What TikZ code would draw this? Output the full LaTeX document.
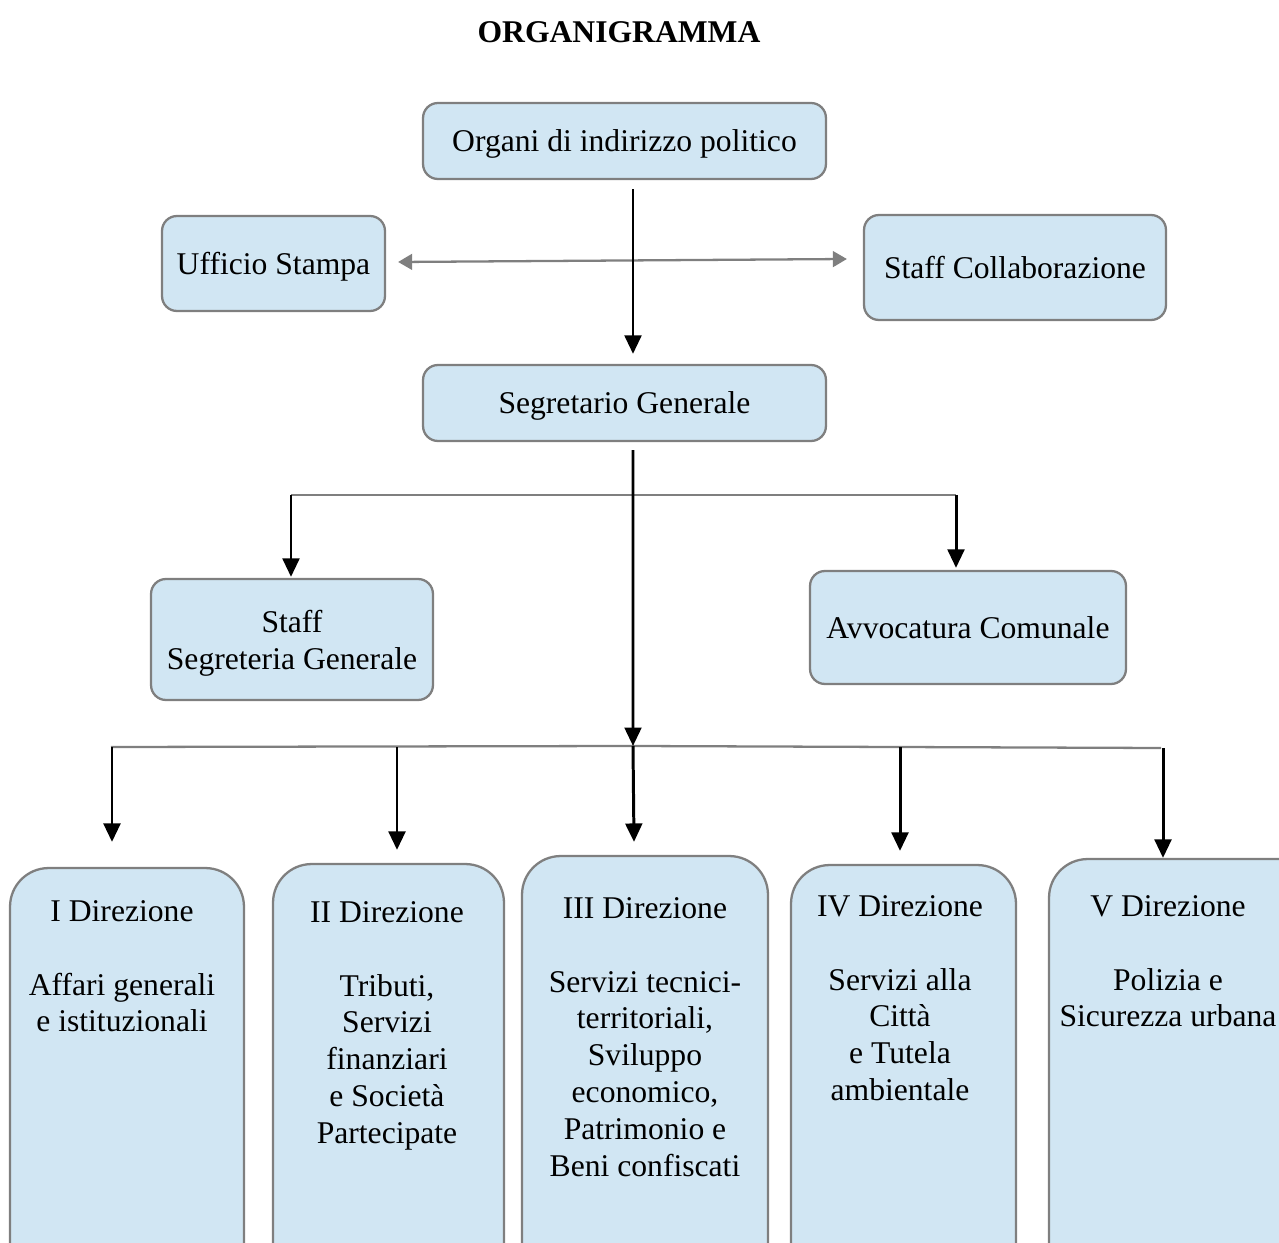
\documentclass[tikz,border=0pt]{standalone}
\usepackage{fontspec}
\setmainfont{Liberation Serif}
\usetikzlibrary{arrows.meta,calc}
\definecolor{boxfill}{HTML}{D1E6F3}
\definecolor{boxline}{HTML}{7F7F7F}
\begin{document}
\begin{tikzpicture}[x=0.02cm,y=-0.02cm,
  txt/.style={font=\fontsize{18}{21}\selectfont},
  box/.style={txt, draw=boxline, fill=boxfill, line width=1.3pt, rounded corners=8.5pt, align=center, inner sep=0pt, text depth=0pt},
  dbox/.style={draw=boxline, fill=boxfill, line width=1.3pt, rounded corners=22pt, inner sep=0pt},
  dtext/.style={txt, align=center, anchor=north, inner sep=0pt},
  blk/.style={line width=1.7pt, -{Triangle[length=10.5pt,width=9.5pt]}},
  gry/.style={draw=boxline, line width=1.3pt},
  garr/.style={gry, {Triangle[length=8pt,width=9pt]}-{Triangle[length=8pt,width=9pt]}},
]
\useasboundingbox (0,0) rectangle (1279,1243);
\clip (0,0) rectangle (1279,1243);

\node[txt, font=\bfseries\fontsize{18}{21}\selectfont] (title) at (619,32) {ORGANIGRAMMA};

\node[box, minimum width=8.06cm, minimum height=1.52cm] (org) at (624.5,141) {Organi di indirizzo politico};
\node[box, minimum width=4.46cm, minimum height=1.9cm] (uff) at (273.5,263.5) {Ufficio Stampa};
\node[box, minimum width=6.04cm, minimum height=2.1cm] (scol) at (1015,267.5) {Staff Collaborazione};
\node[box, minimum width=8.06cm, minimum height=1.52cm] (seg) at (624.5,403) {Segretario Generale};
\node[box, minimum width=5.64cm, minimum height=2.42cm] (ssg) at (292,639.5) {Staff\\Segreteria Generale};
\node[box, minimum width=6.32cm, minimum height=2.26cm] (avv) at (968,627.5) {Avvocatura Comunale};

\node[dbox, minimum width=4.68cm, minimum height=8.64cm] (d1) at (127,1084) {};
\node[dbox, minimum width=4.62cm, minimum height=8.72cm] (d2) at (388.5,1082) {};
\node[dbox, minimum width=4.92cm, minimum height=8.88cm] (d3) at (645,1078) {};
\node[dbox, minimum width=4.5cm, minimum height=8.7cm] (d4) at (903.5,1082.5) {};
\node[dbox, minimum width=5.62cm, minimum height=8.82cm] (d5) at (1189.5,1079.5) {};

\node[dtext] (t1) at (122,900) {I Direzione\\[21pt]Affari generali\\e istituzionali};
\node[dtext] (t2) at (387,901) {II Direzione\\[21pt]Tributi,\\Servizi\\finanziari\\e Società\\Partecipate};
\node[dtext] (t3) at (645,897) {III Direzione\\[21pt]Servizi tecnici-\\territoriali,\\Sviluppo\\economico,\\Patrimonio e\\Beni confiscati};
\node[dtext] (t4) at (900,895) {IV Direzione\\[21pt]Servizi alla\\Città\\e Tutela\\ambientale};
\node[dtext] (t5) at (1168,895) {V Direzione\\[21pt]Polizia e\\Sicurezza urbana};

% junctions
\coordinate (j2) at (633,746);
\coordinate (a1) at (291,495);
\coordinate (a2) at (956,495);
\coordinate (b1) at (111,747);
\coordinate (b2) at (397,747);
\coordinate (b4) at (900,747);
\coordinate (b5) at (1161,748);

% gray lines
\draw[garr] ($(uff.east)+(12,-1.5)$) -- ($(scol.west)+(-16,-8.5)$);
\draw[gry] (a1) -- (a2);
\draw[gry] (b1) -- (j2) -- (b5);

% black arrows
\draw[blk] ($(org.south)+(8.5,9)$) -- ($(seg.north)+(8.5,-10)$);
\draw[blk] ($(seg.south)+(8.5,8)$) -- (j2);
\draw[blk] (a1) -- ($(ssg.north -| a1)+(0,-1)$);
\draw[blk] (a2) -- ($(avv.north -| a2)+(0,-2)$);
\draw[blk] ($(b1)+(1,0)$) -- ($(d1.north -| b1)+(1,-25)$);
\draw[blk] (b2) -- ($(d2.north -| b2)+(0,-13)$);
\draw[blk] (j2) -- ($(d3.north)+(-11,-13)$);
\draw[blk] (b4) -- ($(d4.north -| b4)+(0,-13)$);
\draw[blk] ($(b5)+(2,0)$) -- ($(d5.north -| b5)+(2,0)$);
\end{tikzpicture}
\end{document}
